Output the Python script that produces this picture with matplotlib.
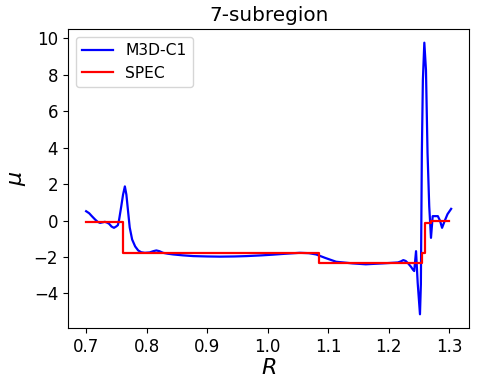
import numpy as np
import matplotlib
matplotlib.use("Agg")
import matplotlib.pyplot as plt

# M3D-C1 profile
r_m3d = [0.700, 0.705, 0.710, 0.715, 0.719, 0.723, 0.727, 0.731, 0.735, 0.738,
         0.742, 0.746, 0.750, 0.7525, 0.7545, 0.758, 0.761, 0.764, 0.7665, 0.769,
         0.772, 0.776, 0.781, 0.786, 0.791, 0.797, 0.805, 0.811, 0.816, 0.821,
         0.827, 0.835, 0.844, 0.860, 0.877, 0.900, 0.921, 0.945, 0.965, 0.990,
         1.009, 1.030, 1.053, 1.068, 1.080, 1.095, 1.113, 1.140, 1.162, 1.190,
         1.215, 1.220, 1.224, 1.228, 1.232, 1.237, 1.240, 1.242, 1.245, 1.2477,
         1.2515, 1.2530, 1.2546, 1.2563, 1.2587, 1.2614, 1.2640, 1.2668, 1.2697,
         1.2725, 1.2770, 1.2810, 1.2845, 1.2880, 1.2920, 1.2970, 1.3030]
mu_m3d = [0.51, 0.40, 0.22, 0.05, -0.07, -0.13, -0.10, -0.07, -0.12, -0.18,
          -0.33, -0.40, -0.32, -0.25, 0.05, 0.77, 1.42, 1.87, 1.42, 0.60,
          -0.38, -1.04, -1.42, -1.64, -1.74, -1.77, -1.75, -1.68, -1.64, -1.68,
          -1.77, -1.82, -1.86, -1.91, -1.95, -1.97, -1.98, -1.97, -1.95, -1.91,
          -1.87, -1.82, -1.77, -1.79, -1.86, -2.05, -2.26, -2.35, -2.40, -2.35,
          -2.30, -2.24, -2.17, -2.22, -2.35, -2.55, -2.70, -2.77, -1.68, -3.40,
          -5.14, -3.50, 3.70, 7.70, 9.75, 8.25, 3.70, 0.78, -0.95,
          0.24, 0.24, 0.24, 0.00, -0.40, -0.05, 0.35, 0.64]

# SPEC stepped profile
r_spec = [0.700, 0.761, 0.761, 1.084, 1.084, 1.2556, 1.2556, 1.2603, 1.2603,
          1.2697, 1.2697, 1.300]
mu_spec = [-0.07, -0.07, -1.80, -1.80, -2.33, -2.33, -1.80, -1.80, -0.13,
           -0.13, -0.04, -0.04]

fig = plt.figure(figsize=(4.78, 3.88), dpi=100)
ax = fig.add_axes([0.142, 0.155, 0.840, 0.770])

ax.plot(r_m3d, mu_m3d, '-', color='blue', lw=1.6, label='M3D-C1')
ax.plot(r_spec, mu_spec, '-', color='red', lw=1.6, label='SPEC')

ax.set_xticks([0.7, 0.8, 0.9, 1.0, 1.1, 1.2, 1.3])
ax.set_yticks([-4, -2, 0, 2, 4, 6, 8, 10])
ax.tick_params(labelsize=12)
ax.set_xlabel(r'$R$', fontsize=16, labelpad=2)
ax.set_ylabel(r'$\mu$', fontsize=16)
ax.set_title('7-subregion', fontsize=14.4)
ax.legend(loc='upper left', fontsize=11.2)

fig.savefig('out.png', dpi=100)
